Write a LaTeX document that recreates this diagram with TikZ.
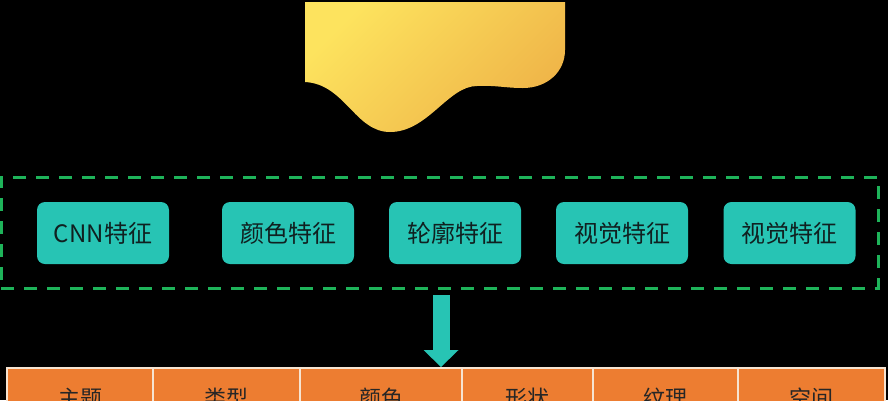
\documentclass[tikz,border=0pt]{standalone}
\usepackage{fontspec}
\newfontfamily\cjk{Noto Sans CJK SC}
\usetikzlibrary{arrows.meta}
\definecolor{teal1}{HTML}{27C4B4}
\definecolor{grn}{HTML}{1EB35A}
\definecolor{org}{HTML}{ED7D31}
\definecolor{ylight}{HTML}{FDE35E}
\definecolor{ydark}{HTML}{EFB448}
\definecolor{txt}{HTML}{102020}
\definecolor{celline}{HTML}{F6E4D2}
\tikzset{
  featbox/.style={fill=teal1, rounded corners=8pt, minimum width=132pt, minimum height=62pt,
    inner sep=0pt, text=txt, font=\cjk\fontsize{24}{28}\selectfont},
  groupbox/.style={draw=grn, line width=3pt, dash pattern=on 13pt off 10pt, inner sep=0pt},
  cellbox/.style={fill=org, draw=celline, line width=1.3pt, minimum height=60pt, inner sep=0pt,
    text=black!85, font=\cjk\fontsize{22}{26}\selectfont},
  bigarrow/.style={draw=teal1, line width=17pt, -{Triangle[width=35pt,length=17pt,line width=0pt]}}
}
\begin{document}
\begin{tikzpicture}[x=1pt,y=-1pt]
\fill[black] (0,0) rectangle (888,400);
\useasboundingbox (0,0) rectangle (888,400);
\clip (0,0) rectangle (888,400);
% yellow wave shape
\shade[top color=ylight, bottom color=ydark, shading angle=45]
  (305,2) -- (565,2) -- (565,50)
  .. controls (565,72) and (547,88) .. (523,88)
  .. controls (505,88) and (495,85) .. (477,86)
  .. controls (448,86) and (428,132) .. (390,132)
  .. controls (355,132) and (345,84) .. (305,82) -- cycle;
% dashed group
\node[groupbox, minimum width=877pt, minimum height=111pt] (group) at (439.5,232.5) {};
% feature boxes
\node[featbox] (f1) at (103,233) {CNN特征};
\node[featbox] (f2) at (288,233) {颜色特征};
\node[featbox] (f3) at (455,233) {轮廓特征};
\node[featbox] (f4) at (622,233) {视觉特征};
\node[featbox] (f5) at (789.5,233) {视觉特征};
% table cells
\node[cellbox, minimum width=146pt] (c1) at (80,398) {主题};
\node[cellbox, minimum width=147pt] (c2) at (226.5,398) {类型};
\node[cellbox, minimum width=162pt] (c3) at (381,398) {颜色};
\node[cellbox, minimum width=131pt] (c4) at (527.5,398) {形状};
\node[cellbox, minimum width=145pt] (c5) at (665.5,398) {纹理};
\node[cellbox, minimum width=147pt] (c6) at (811.5,398) {空间};
% arrow
\coordinate (a0) at (441,295);
\coordinate (a1) at (441,367);
\draw[bigarrow] (a0) -- (a1);
\end{tikzpicture}
\end{document}
